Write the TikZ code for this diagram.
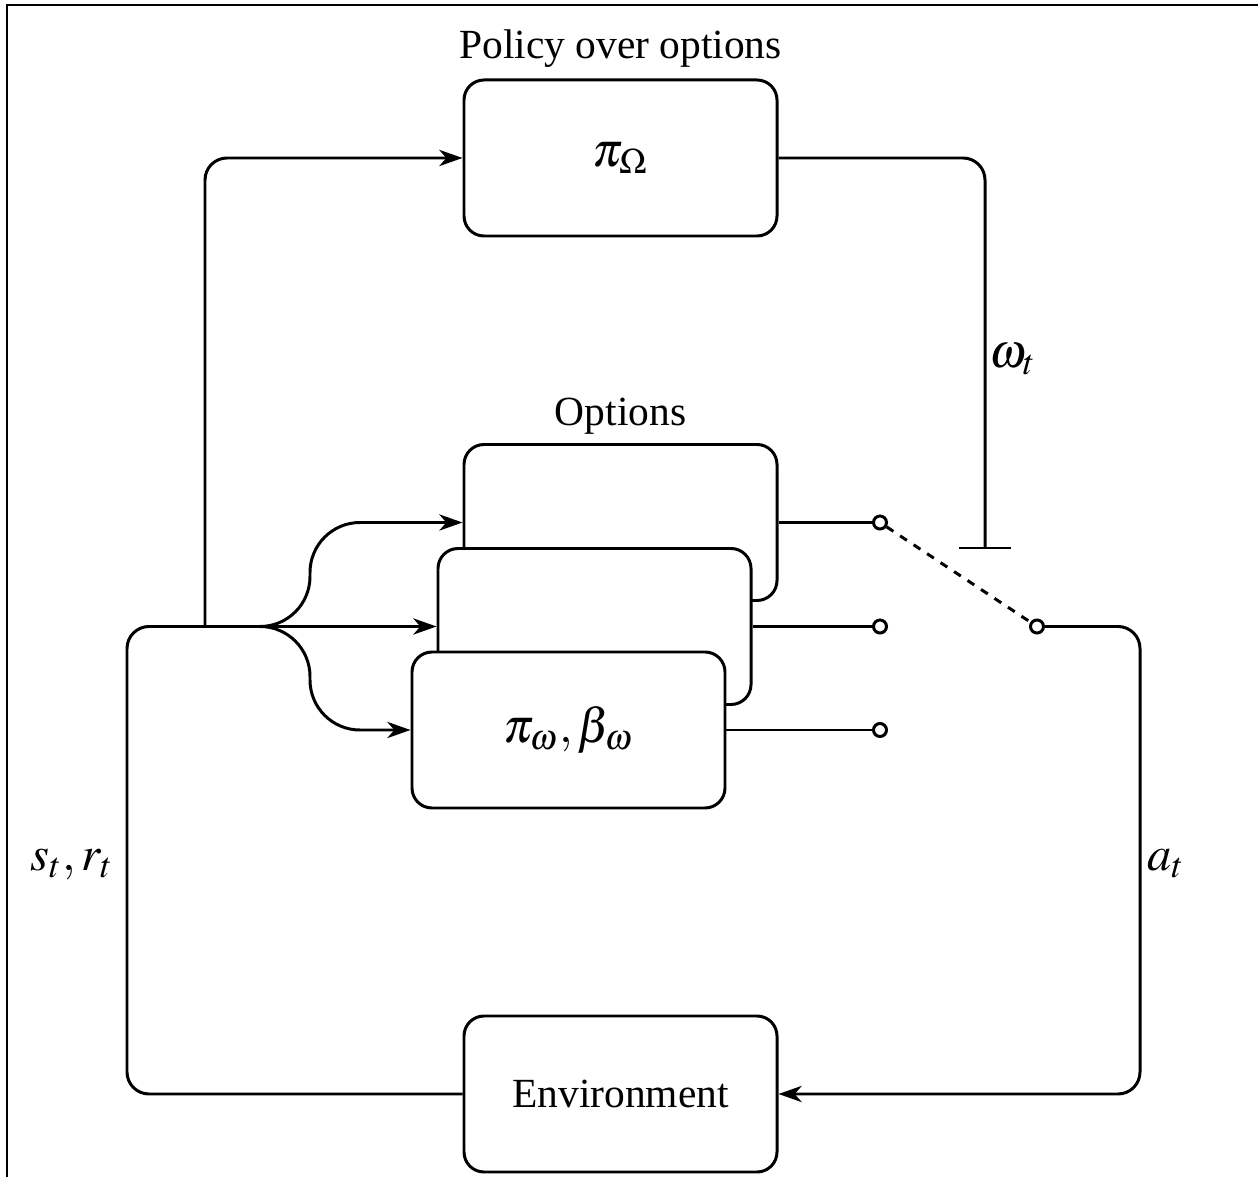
\documentclass[tikz,border=0pt]{standalone}
\usepackage{mathptmx}
\usepackage{fontspec}
\setmainfont{Liberation Serif}
\usetikzlibrary{positioning,arrows.meta}

\begin{document}
\begin{tikzpicture}[font=\fontsize{11.8}{14}\selectfont, line width=0.85pt, >={Stealth[length=6.6pt,width=4.6pt,inset=2pt]}]
\tikzset{box/.style={draw, rounded corners=0.2cm, fill=white, minimum width=3.13cm, minimum height=1.56cm, align=center},
  port/.style={draw, circle, fill=white, inner sep=0pt, minimum size=0.13cm},
  wire/.style={rounded corners=0.22cm},
  fork/.style={->, rounded corners=0.5cm},
  sym/.style={font=\fontsize{13.8}{16}\selectfont}}
\useasboundingbox (0,0) rectangle (12.58,11.77);
\draw[line width=0.6pt] (0.07,0) -- (0.07,11.72) -- (12.58,11.72);
% policy over options and environment
\node[box, sym] (policy) at (6.205,10.19) {$\pi_\Omega$};
\node[above=-0.2mm of policy] (policytitle) {Policy over options};
\node[box] (env) at (6.205,0.83) {Environment};
% stack of options, back to front
\node[box] (optback) at (6.205,6.545) {};
\node[box] (optmid) at (5.945,5.505) {};
\node[box, sym] (optfront) at (5.685,4.47) {$\pi_\omega, \beta_\omega$};
\node[above=-0.5mm of optback] (optitle) {Options};
% switch contacts
\node[port] (pback) at (8.80,6.545) {};
\node[port] (pmid) at (8.80,5.505) {};
\node[port] (pfront) at (8.80,4.47) {};
\node[port] (pout) at (10.37,5.505) {};
\draw (optback.east) -- (pback);
\draw (optmid.east) -- (pmid);
\draw (optfront.east) -- (pfront);
\draw[dash pattern=on 2.3pt off 2.3pt] (pback) -- (pout);
% state and reward into the agent
\coordinate (split) at (2.05,5.505);
\draw[wire] (env.west) -- (1.27,0.83) -- (1.27,5.505) -- (split);
\draw[wire,->] (split) -- (2.05,10.19) -- (policy.west);
\draw[->] (split) -- (optmid.west);
\draw[fork] (split) -- (3.1,5.505) -- (3.1,6.545) -- (optback.west);
\draw[fork] (split) -- (3.1,5.505) -- (3.1,4.47) -- (optfront.west);
% chosen option drives the switch
\coordinate (stop) at (9.85,6.29);
\draw[wire] (policy.east) -- (9.85,10.19) -- (stop);
\draw ([xshift=-0.26cm]stop) -- ([xshift=0.26cm]stop);
% action back to the environment
\draw[wire,->] (pout) -- (11.40,5.505) -- (11.40,0.83) -- (env.east);
% signal labels
\node[sym] (omega) at (10.13,8.18) {$\omega_t$};
\node[sym] (act) at (11.66,3.13) {$a_t$};
\node[sym] (obs) at (0.72,3.13) {$s_t, r_t$};
\end{tikzpicture}
\end{document}
